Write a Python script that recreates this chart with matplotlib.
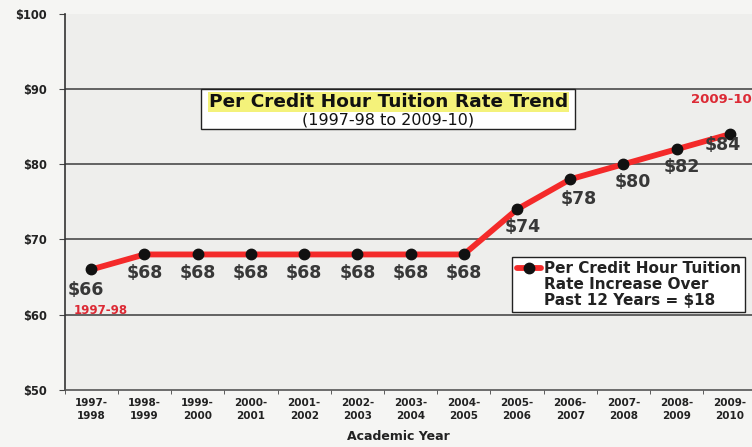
import numpy as np
import matplotlib.pyplot as plt
from matplotlib.lines import Line2D

plt.rcParams['font.family'] = ['DejaVu Sans']

# Dữ liệu
years = ['1997-\n1998', '1998-\n1999', '1999-\n2000', '2000-\n2001', '2001-\n2002',
         '2002-\n2003', '2003-\n2004', '2004-\n2005', '2005-\n2006', '2006-\n2007',
         '2007-\n2008', '2008-\n2009', '2009-\n2010']
rates = [66, 68, 68, 68, 68, 68, 68, 68, 74, 78, 80, 82, 84]
yticks = [50, 60, 70, 80, 90, 100]
legend_lines = ['Per Credit Hour Tuition', 'Rate Increase Over', 'Past 12 Years = $18']

# offset nhãn giá trị (points), tâm nhãn so với điểm
label_offsets = [(-4, -15), (0, -13), (0, -13), (0, -13), (0, -13), (0, -13), (0, -13),
                 (0, -13), (4, -13), (6, -14), (7, -13), (4, -13), (-5, -8)]

fig = plt.figure(figsize=(7.52, 4.47), dpi=100)
fig.patch.set_facecolor('#f5f5f3')
ax = fig.add_axes([0.086, 0.128, 0.92, 0.841])
ax.set_facecolor('#eeeeec')

x = np.arange(len(years))
line, = ax.plot(x, rates, color='#f42a2a', lw=4.2, marker='o', markersize=7.5,
                markerfacecolor='#111111', markeredgecolor='#111111',
                solid_capstyle='round', solid_joinstyle='round', zorder=3)

for xi, v, off in zip(x, rates, label_offsets):
    ax.annotate(f'${v}', xy=(xi, v), xytext=off, textcoords='offset points',
                ha='center', va='center', fontsize=12.5, fontweight='bold', color='#383838')

ax.text(0.17, 60.6, '1997-98', color='#dc2a35', fontsize=8.5, fontweight='bold',
        ha='center', va='center')
ax.text(11.27, 88.6, '2009-10', color='#dc2a35', fontsize=9.5, fontweight='bold',
        ha='left', va='center', clip_on=False)

ax.set_xlim(-0.5, 12.5)
ax.set_ylim(50, 100)
ax.set_yticks(yticks)
ax.set_yticklabels([f'${t}' for t in yticks], fontsize=8.3, fontweight='bold', color='#222222')
ax.set_xticks(x)
ax.set_xticklabels(years, fontsize=7.5, fontweight='bold', color='#222222', linespacing=1.35)
ax.set_xticks(np.arange(len(years) + 1) - 0.5, minor=True)
ax.tick_params(axis='x', which='major', length=0, pad=6)
ax.tick_params(axis='x', which='minor', length=3, color='#444444')
ax.tick_params(axis='y', length=4, color='#444444', pad=9)
for t in yticks[1:-1]:
    ax.axhline(t, color='#4a4a4a', lw=1.2, zorder=1)
for s in ['top', 'right']:
    ax.spines[s].set_visible(False)
ax.spines['left'].set_color('#333333')
ax.spines['left'].set_linewidth(1.2)
ax.spines['bottom'].set_color('#555555')
ax.spines['bottom'].set_linewidth(1.2)

# Nhãn trục x
ax.text(0.483, -0.125, 'Academic Year', transform=ax.transAxes, ha='center', va='center',
        fontsize=9, fontweight='bold', color='#222222')

# Hộp tiêu đề
ax.add_patch(plt.Rectangle((2.07, 84.7), 7.02, 5.35, fc='white', ec='#222222',
                           lw=1.0, zorder=4))
ax.text(5.58, 88.3, 'Per Credit Hour Tuition Rate Trend', ha='center', va='center',
        fontsize=13.3, fontweight='bold', color='#111111',
        bbox=dict(boxstyle='square,pad=0.06', fc='#f4f27a', ec='none'), zorder=5)
ax.text(5.58, 85.85, '(1997-98 to 2009-10)', ha='center', va='center',
        fontsize=11.5, color='#111111', zorder=5)

# Chú thích: đường + 3 dòng chữ
blank = Line2D([], [], color='none')
leg = ax.legend(handles=[line, blank, blank], labels=legend_lines, loc='upper left',
                bbox_to_anchor=(0.647, 0.354), borderaxespad=0, frameon=True,
                fancybox=False, edgecolor='#222222', handlelength=1.6,
                handletextpad=0.15, borderpad=0.3, labelspacing=0.05,
                prop={'weight': 'bold', 'size': 11})
leg.get_frame().set_linewidth(1.0)
leg.get_frame().set_facecolor('white')
leg.get_frame().set_alpha(1)
for t in leg.get_texts():
    t.set_color('#222222')

fig.savefig('out.png', dpi=100, facecolor=fig.get_facecolor())
